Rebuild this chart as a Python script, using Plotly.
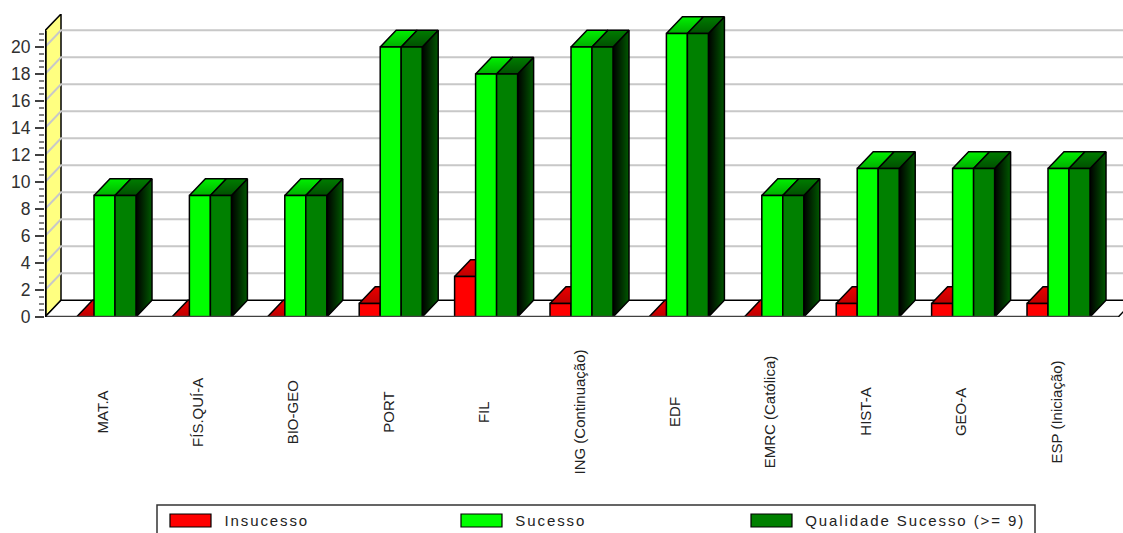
import plotly.graph_objects as go

categories = ["MAT.A", "FÍS.QUÍ-A", "BIO-GEO", "PORT", "FIL", "ING (Continuação)", "EDF",
              "EMRC (Católica)", "HIST-A", "GEO-A", "ESP (Iniciação)"]
insucesso = [0, 0, 0, 1, 3, 1, 0, 0, 1, 1, 1]
sucesso = [9, 9, 9, 20, 18, 20, 21, 9, 11, 11, 11]
qualidade = [9, 9, 9, 20, 18, 20, 21, 9, 11, 11, 11]
legend_names = ["Insucesso", "Sucesso", "Qualidade Sucesso (>= 9)"]
y_ticks = list(range(0, 21, 2))
minor_ticks = [v / 2 for v in range(0, 43) if v % 4 != 0]

W, H = 1123, 533
L, T, B = 45, 14, 216
PX_PER_CAT = 95.4
PX_PER_VAL = 13.5
X0_PX = 103
PLOT_W, PLOT_H = W - L, H - T - B
XMIN = (L - X0_PX) / PX_PER_CAT
XMAX = (W - X0_PX) / PX_PER_CAT
YMAX = PLOT_H / PX_PER_VAL
DX = 16 / PX_PER_CAT
DY = 16.7 / PX_PER_VAL
BW = 21 / PX_PER_CAT
OFFSETS = [-30 / PX_PER_CAT, -9 / PX_PER_CAT, 12 / PX_PER_CAT]
OUT = dict(color="#000000", width=1.5)

fig = go.Figure()


def poly(xs, ys, color=None, grad=None, line=OUT):
    kw = dict(fill="toself", mode="lines", line=line, hoverinfo="skip",
              showlegend=False, cliponaxis=True)
    if grad:
        kw["fillgradient"] = grad
    else:
        kw["fillcolor"] = color
    fig.add_trace(go.Scatter(x=xs + xs[:1], y=ys + ys[:1], **kw))


def seg(xs, ys, color, width):
    fig.add_trace(go.Scatter(x=xs, y=ys, mode="lines", line=dict(color=color, width=width),
                             hoverinfo="skip", showlegend=False, cliponaxis=False))


# yellow wall and floor
poly([XMIN, XMIN + DX, XMIN + DX, XMIN], [0, DY, YMAX, YMAX - DY], "#FFFF80")
poly([XMIN, XMAX - 0.05, XMAX - 0.05 + DX, XMIN + DX], [0, 0, DY, DY], "#FFFFFF")

# gridlines on wall and back
for v in y_ticks[1:]:
    seg([XMIN, XMIN + DX, XMAX], [v, v + DY, v + DY], "#C8C8C8", 2)

styles = [
    dict(front="#FF0000", top=("#C00000", "#E80000"), side=("#600000", "#A00000")),
    dict(front="#00FF00", top=("#00B000", "#00F000"), side=("#004000", "#006000")),
    dict(front="#008000", top=("#005000", "#007C00"), side=("#000000", "#005800")),
]
ZERO_INSET = 3.5 / PX_PER_CAT

for i in range(len(categories)):
    for s, vals in enumerate([insucesso, sucesso, qualidade]):
        v = vals[i]
        st = styles[s]
        x0 = i + OFFSETS[s]
        x1 = x0 + BW
        if v == 0:
            x0 += ZERO_INSET
        poly([x1, x1 + DX, x1 + DX, x1], [0, DY, v + DY, v],
             grad=dict(type="horizontal", start=x1, stop=x1 + DX,
                       colorscale=[[0, st["side"][0]], [1, st["side"][1]]]))
        poly([x0, x1, x1 + DX, x0 + DX], [v, v, v + DY, v + DY],
             grad=dict(type="vertical", start=v, stop=v + DY,
                       colorscale=[[0, st["top"][0]], [1, st["top"][1]]]))
        if v > 0:
            poly([x0, x1, x1, x0], [0, 0, v, v], st["front"])

# front axis lines
seg([XMIN, XMAX - 0.05], [0, 0], "#404040", 2.5)
seg([XMIN, XMIN], [0, YMAX - DY], "#000000", 3.5)


def px(x):
    return (x - L) / PLOT_W


def py(y):
    return (H - B - y) / PLOT_H


annotations = []
for i, c in enumerate(categories):
    annotations.append(dict(x=i, y=py(412), xref="x", yref="paper", text=c, textangle=-90,
                            showarrow=False, xanchor="center", yanchor="middle", xshift=-1.5,
                            font=dict(family="Liberation Sans", size=15, color="#222222")))

shapes = [dict(type="rect", xref="paper", yref="paper", x0=px(157), x1=px(1035), y0=py(505), y1=py(540),
               line=dict(color="#333333", width=1.5), fillcolor="#FFFFFF", layer="above")]
legend_x = [(170, 267), (461, 551), (751, 915)]
legend_colors = [st["front"] for st in styles]
for (sw, tx), name, col in zip(legend_x, legend_names, legend_colors):
    shapes.append(dict(type="rect", xref="paper", yref="paper", x0=px(sw), x1=px(sw + 41),
                       y0=py(514), y1=py(527), fillcolor=col, line=dict(color="#000000", width=1.2),
                       layer="above"))
    annotations.append(dict(x=px(tx), y=py(520.5), xref="paper", yref="paper", text=name, showarrow=False,
                            xanchor="center", yanchor="middle",
                            font=dict(family="Liberation Sans", size=15, color="#222222")))

fig.update_layout(
    width=W, height=H, autosize=False,
    margin=dict(l=L, r=0, t=T, b=B, pad=0),
    paper_bgcolor="#FFFFFF", plot_bgcolor="#FFFFFF", showlegend=False,
    shapes=shapes, annotations=annotations,
    xaxis=dict(range=[XMIN, XMAX], showgrid=False, zeroline=False, showticklabels=False, ticks="", fixedrange=True),
    yaxis=dict(range=[0, YMAX], showgrid=False, zeroline=False, showline=False,
               tickmode="array", tickvals=y_ticks, ticktext=[str(v) for v in y_ticks],
               ticks="outside", ticklen=9, tickwidth=2, tickcolor="#404040", ticklabelstandoff=1,
               tickfont=dict(family="Liberation Sans", size=17.5, color="#303030"),
               minor=dict(tickmode="array", tickvals=minor_ticks, ticks="outside", ticklen=5,
                          tickwidth=1.5, tickcolor="#808080", showgrid=False),
               fixedrange=True),
)
post = """
document.body.style.margin='0';
document.documentElement.style.overflow='hidden';
var names = %s;
document.querySelectorAll('.annotation-text').forEach(function(t){
  if (names.indexOf(t.textContent) >= 0) { t.style.letterSpacing = '1.9px'; }
});
""" % repr(legend_names)
fig.write_html("out.html", config=dict(displayModeBar=False), post_script=post)
